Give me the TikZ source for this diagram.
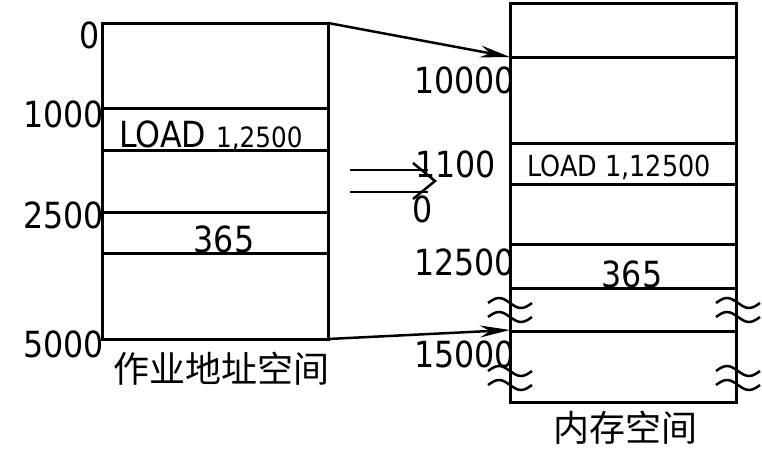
\documentclass[tikz,border=0pt]{standalone}
\usepackage{fontspec}
\setmainfont{DejaVu Sans}[FakeStretch=0.88]
\newfontfamily\cjk{Noto Sans CJK SC}
\usetikzlibrary{arrows.meta}

\tikzset{
  cell/.style={line width=3pt},
  big/.style={font=\fontsize{36}{36}\selectfont, inner sep=0pt},
  small/.style={font=\fontsize{29}{29}\selectfont, inner sep=0pt},
  title/.style={font=\cjk\fontsize{36}{36}\selectfont, inner sep=0pt},
  move/.style={line width=2.5pt, -{Stealth[length=30pt,width=12pt]}},
}
\newcommand{\wavy}[2]{\draw[line width=2.5pt] (#1,#2) sin ++(11,-5) cos ++(11,5) sin ++(11,5) cos ++(11,-5);}

\begin{document}
\begin{tikzpicture}[x=1pt,y=-1pt]
		%%%%% START %%%%%
		\useasboundingbox (0,0) rectangle (762,469);
		
		% job address space
		\draw[cell] (102,23) rectangle (328,339);
		\draw[cell] (102,108) -- (328,108);
		\draw[cell] (102,150) -- (328,150);
		\draw[cell] (102,212) -- (328,212);
		\draw[cell] (102,253) -- (328,253);
		
		\node[big, anchor=base east] (j0) at (100,48) {0};
		\node[big, anchor=base east] (j1000) at (104,127) {1000};
		\node[big, anchor=base east] (j2500) at (104,228) {2500};
		\node[big, anchor=base east] (j5000) at (104,357) {5000};
		
		\node[big, anchor=base west] (jload) at (119,147) {LOAD {\fontsize{28}{28}\selectfont 1,2500}};
		\node[big, anchor=base] (jdata) at (224,252) {365};
		\node[title] (jname) at (221,369) {作业地址空间};
		
		% memory space
		\draw[cell] (510,3) rectangle (736,402);
		\draw[cell] (510,57) -- (736,57);
		\draw[cell] (510,143) -- (736,143);
		\draw[cell] (510,184) -- (736,184);
		\draw[cell] (510,244) -- (736,244);
		\draw[cell] (510,288) -- (736,288);
		\draw[cell] (510,331) -- (736,331);
		
		\node[big, anchor=base east] (m10000) at (515,93) {10000};
		\node[big, anchor=base east] (m1100) at (496,177) {1100};
		\node[big, anchor=base east] (m0) at (433,222) {0};
		\node[big, anchor=base east] (m12500) at (515,275) {12500};
		\node[big, anchor=base east] (m15000) at (515,367) {15000};
		
		\node[small, anchor=base west] (mload) at (527,176) {LOAD 1,12500};
		\node[big, anchor=base] (mdata) at (632,287) {365};
		\node[title] (mname) at (625,428) {内存空间};
		
		\wavy{488}{303}
		\wavy{488}{317}
		\wavy{716}{303}
		\wavy{716}{317}
		\wavy{488}{371}
		\wavy{488}{385}
		\wavy{716}{371}
		\wavy{716}{385}
		
		% relocation
		\coordinate (jtop) at (328,23);
		\coordinate (jbot) at (328,339);
		\coordinate (mtop) at (510,57);
		\coordinate (mbot) at (510,330);
		\draw[move] (jtop) -- (mtop);
		\draw[move] (jbot) -- (mbot);
		
		\draw[line width=2.5pt] (350,170) -- (428,170);
		\draw[line width=2.5pt] (350,192) -- (428,192);
		\draw[line width=2.5pt] (413,163) -- (435,181) -- (413,199);
		
		%%%%% END %%%%%
\end{tikzpicture}
\end{document}
